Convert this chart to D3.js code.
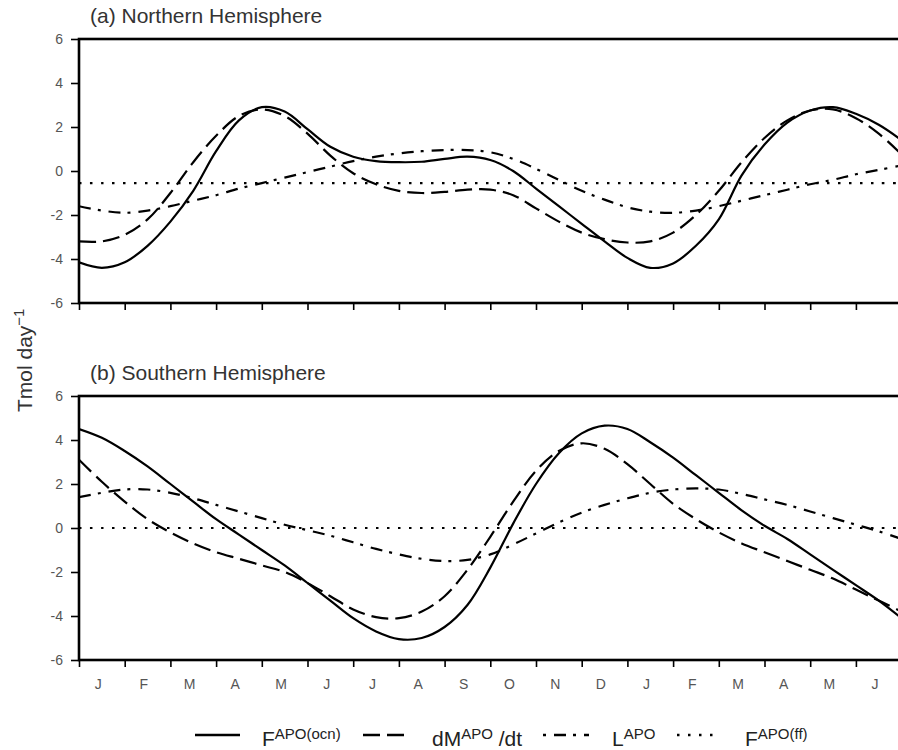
<!DOCTYPE html>
<html>
<head>
<meta charset="utf-8">
<script src="https://cdn.jsdelivr.net/npm/d3@7/dist/d3.min.js"></script>
<style>
  html, body { margin: 0; padding: 0; background: #fff; }
  svg { display: block; font-family: "Liberation Sans", Arial, sans-serif; }
</style>
</head>
<body>
<svg id="chart" width="898" height="750"></svg>
<script>
// Month axis: 18 months starting in January, values sampled every half month
const monthLabels = ["J","F","M","A","M","J","J","A","S","O","N","D","J","F","M","A","M","J"];
const monthPos = d3.range(0, 18.01, 0.5);
const yTicks = [-6, -4, -2, 0, 2, 4, 6];

// (a) Northern Hemisphere, Tmol/day
const nhOcean  = [-4.15,-4.4,-4.15,-3.4,-2.3,-0.9,0.9,2.3,2.9,2.7,1.9,1.1,0.65,0.45,0.4,0.42,0.55,0.65,0.5,0.0,-0.8,-1.6,-2.4,-3.2,-3.95,-4.4,-4.2,-3.4,-2.2,-0.2,1.2,2.2,2.75,2.9,2.6,2.1,1.4];
const nhDMdt   = [-3.2,-3.2,-2.9,-2.2,-1.0,0.4,1.6,2.5,2.8,2.5,1.7,0.7,-0.1,-0.6,-0.9,-1.0,-0.95,-0.85,-0.85,-1.1,-1.7,-2.3,-2.8,-3.1,-3.25,-3.2,-2.8,-2.0,-0.9,0.4,1.5,2.3,2.75,2.8,2.4,1.7,0.75];
const nhLand   = [-1.6,-1.8,-1.9,-1.8,-1.6,-1.35,-1.1,-0.8,-0.55,-0.3,-0.05,0.2,0.45,0.65,0.8,0.9,0.95,0.95,0.85,0.55,0.1,-0.4,-0.9,-1.3,-1.65,-1.85,-1.9,-1.8,-1.6,-1.35,-1.1,-0.85,-0.6,-0.4,-0.15,0.05,0.25];
const nhFossil = monthPos.map(() => -0.55);

// (b) Southern Hemisphere, Tmol/day
const shOcean  = [4.5,4.1,3.5,2.8,2.0,1.2,0.4,-0.3,-1.0,-1.7,-2.5,-3.3,-4.1,-4.7,-5.05,-5.0,-4.5,-3.5,-1.8,0.2,2.0,3.4,4.3,4.65,4.5,3.9,3.2,2.4,1.6,0.8,0.1,-0.5,-1.2,-1.9,-2.6,-3.3,-4.1];
const shDMdt   = [3.1,2.1,1.2,0.4,-0.2,-0.7,-1.1,-1.4,-1.7,-2.0,-2.5,-3.1,-3.7,-4.05,-4.1,-3.8,-3.1,-1.9,-0.4,1.2,2.6,3.5,3.85,3.6,2.9,2.0,1.1,0.4,-0.2,-0.7,-1.1,-1.5,-1.9,-2.3,-2.8,-3.3,-3.8];
const shLand   = [1.4,1.6,1.75,1.75,1.6,1.35,1.05,0.75,0.45,0.15,-0.1,-0.35,-0.65,-0.95,-1.2,-1.4,-1.5,-1.45,-1.2,-0.75,-0.25,0.25,0.7,1.05,1.35,1.6,1.75,1.8,1.75,1.55,1.3,1.05,0.75,0.45,0.15,-0.15,-0.5];
const shFossil = monthPos.map(() => 0);

const styles = {
  ocean:  { dash: null, offset: 0 },
  dmdt:   { dash: "17 7", offset: 0 },
  land:   { dash: "12 7 3 8", offset: 19 },
  fossil: { dash: "2.5 8.5", offset: 0 }
};

const svg = d3.select("#chart");
const left = 79, right = 901.6;
const x = d3.scaleLinear().domain([0, 18]).range([left, right]);

function panel(top, bottom, title, series, showLabels, id) {
  const y = d3.scaleLinear().domain([-6, 6]).range([bottom, top]);
  const g = svg.append("g");

  g.append("clipPath").attr("id", id)
    .append("rect").attr("x", left).attr("y", top).attr("width", right - left).attr("height", bottom - top);

  const line = d3.line()
    .x((d, i) => x(monthPos[i]))
    .y(d => y(d))
    .curve(d3.curveCatmullRom.alpha(0.5));

  const lines = g.append("g").attr("clip-path", `url(#${id})`);
  series.forEach(s => {
    lines.append("path")
      .attr("d", line(s.values))
      .attr("fill", "none")
      .attr("stroke", "#000")
      .attr("stroke-width", 2.2)
      .attr("stroke-dasharray", styles[s.key].dash);
  });

  // y axis
  const yAxis = d3.axisLeft(y).tickValues(yTicks).tickSize(8).tickPadding(8).tickFormat(d3.format("d"));
  const ya = g.append("g").attr("transform", `translate(${left},0)`).call(yAxis);
  ya.select(".domain").remove();
  ya.selectAll(".tick line").attr("stroke", "#000").attr("stroke-width", 1.6);
  ya.selectAll(".tick text").attr("fill", "#555").style("font-size", "14px")
    .text(d => d < 0 ? "-" + Math.abs(d) : d);

  // x axis ticks
  const xAxis = d3.axisBottom(x).tickValues(d3.range(0, 19)).tickSize(7).tickFormat("");
  const xa = g.append("g").attr("transform", `translate(0,${bottom})`).call(xAxis);
  xa.select(".domain").remove();
  xa.selectAll(".tick line").attr("stroke", "#000").attr("stroke-width", 1.6);

  if (showLabels) {
    g.append("g").selectAll("text").data(monthLabels).join("text")
      .attr("x", (d, i) => x(i + 0.42))
      .attr("y", bottom + 29)
      .attr("text-anchor", "middle")
      .attr("fill", "#555")
      .style("font-size", "14px")
      .text(d => d);
  }

  // frame
  g.append("rect")
    .attr("x", left).attr("y", top)
    .attr("width", right - left).attr("height", bottom - top)
    .attr("fill", "none").attr("stroke", "#000").attr("stroke-width", 2.6);

  g.append("text")
    .attr("x", 90).attr("y", top - 16)
    .attr("fill", "#333")
    .style("font-size", "21px")
    .text(title);
}

panel(39, 303, "(a) Northern Hemisphere", [
  { key: "fossil", values: nhFossil },
  { key: "land", values: nhLand },
  { key: "dmdt", values: nhDMdt },
  { key: "ocean", values: nhOcean }
], false, "clipA");

panel(396, 660, "(b) Southern Hemisphere", [
  { key: "fossil", values: shFossil },
  { key: "land", values: shLand },
  { key: "dmdt", values: shDMdt },
  { key: "ocean", values: shOcean }
], true, "clipB");

// y axis title
const yt = svg.append("text")
  .attr("transform", "translate(32,412) rotate(-90)")
  .attr("fill", "#333")
  .style("font-size", "21px");
yt.append("tspan").text("Tmol day");
yt.append("tspan").attr("dy", -8).style("font-size", "15px").text("\u22121");

// legend
const legendY = 735, textY = 746;
const legendItems = [
  { key: "ocean",  x0: 195, x1: 240, tx: 262, main: "F", sup: "APO(ocn)", tail: "" },
  { key: "dmdt",   x0: 363, x1: 408, tx: 432, main: "dM", sup: "APO", tail: " /dt" },
  { key: "land",   x0: 543, x1: 589, tx: 612, main: "L", sup: "APO", tail: "" },
  { key: "fossil", x0: 677, x1: 720, tx: 745, main: "F", sup: "APO(ff)", tail: "" }
];
const lg = svg.append("g");
legendItems.forEach(it => {
  lg.append("line")
    .attr("x1", it.x0).attr("x2", it.x1).attr("y1", legendY).attr("y2", legendY)
    .attr("stroke", "#000").attr("stroke-width", 2.6)
    .attr("stroke-dasharray", styles[it.key].dash)
    .attr("stroke-dashoffset", styles[it.key].offset);
  const t = lg.append("text").attr("x", it.tx).attr("y", textY)
    .attr("fill", "#222").style("font-size", "21px");
  t.append("tspan").text(it.main);
  t.append("tspan").attr("dy", -7).style("font-size", "15px").text(it.sup);
  if (it.tail) t.append("tspan").attr("dy", 7).text(it.tail);
});
</script>
</body>
</html>
